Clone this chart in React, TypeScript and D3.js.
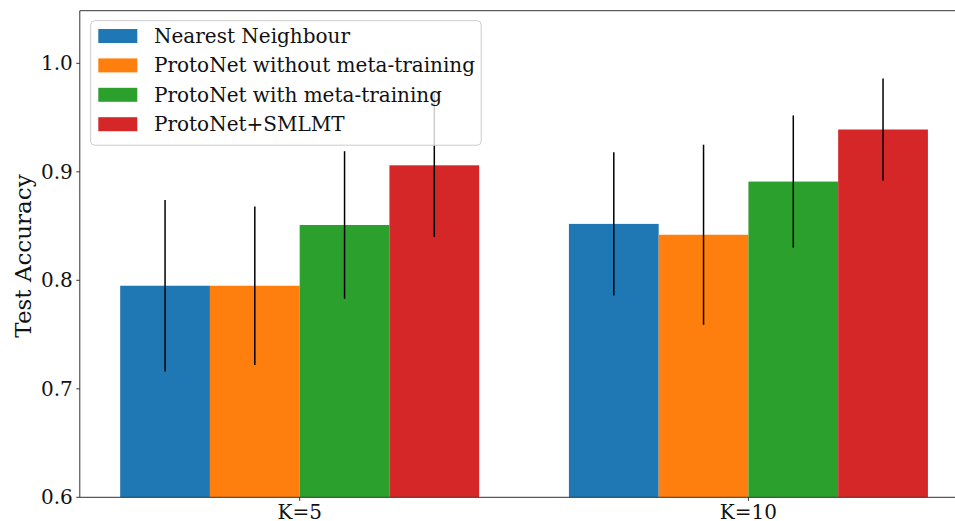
import React from "react";
import * as d3 from "d3";

const categories = ["K=5", "K=10"];
const seriesNames = [
  "Nearest Neighbour",
  "ProtoNet without meta-training",
  "ProtoNet with meta-training",
  "ProtoNet+SMLMT",
];
const seriesColors = ["#1f77b4", "#ff7f0e", "#2ca02c", "#d62728"];
// values per series: [K=5, K=10]
const nearestNeighbour = [0.795, 0.852];
const protoNoMeta = [0.795, 0.842];
const protoMeta = [0.851, 0.891];
const protoSmlmt = [0.906, 0.939];
const errNearest = [0.079, 0.066];
const errNoMeta = [0.073, 0.083];
const errMeta = [0.068, 0.061];
const errSmlmt = [0.066, 0.047];
const yTicks = [0.6, 0.7, 0.8, 0.9, 1.0];

const seriesValues = [nearestNeighbour, protoNoMeta, protoMeta, protoSmlmt];
const seriesErrors = [errNearest, errNoMeta, errMeta, errSmlmt];

const W = 955;
const H = 521;
const FONT = "'DejaVu Serif', serif";

export default function App() {
  const x = d3.scaleLinear().domain([-0.49, 1.49]).range([79.8, 968.3]);
  const y = d3.scaleLinear().domain([0.6, 1.0485]).range([497.3, 10.7]);
  const barW = 0.2;
  const left = x(-0.49);
  const right = x(1.49);
  const top = y(1.0485);
  const bottom = y(0.6);

  const legendX = 90.7;
  const legendY = 20.7;
  const legendW = 390.5;
  const legendH = 124.5;
  const rowH = 29.4;

  return (
    <svg
      width={W}
      height={H}
      style={{ position: "absolute", left: 0, top: 0, background: "#fff" }}
    >
      <rect x={0} y={0} width={W} height={H} fill="#fff" />
      {/* bars */}
      {seriesValues.map((vals, si) =>
        vals.map((v, gi) => {
          const c = gi + (si - 1.5) * barW;
          return (
            <rect
              key={`b-${si}-${gi}`}
              x={x(c - barW / 2)}
              y={y(v)}
              width={x(c + barW / 2) - x(c - barW / 2)}
              height={y(0.6) - y(v)}
              fill={seriesColors[si]}
            />
          );
        })
      )}
      {/* error bars */}
      {seriesValues.map((vals, si) =>
        vals.map((v, gi) => {
          const c = gi + (si - 1.5) * barW;
          const e = seriesErrors[si][gi];
          return (
            <line
              key={`e-${si}-${gi}`}
              x1={x(c)}
              x2={x(c)}
              y1={y(v + e)}
              y2={y(v - e)}
              stroke="#000"
              strokeWidth={1.5}
            />
          );
        })
      )}
      {/* spines */}
      <line x1={left} x2={left} y1={top} y2={bottom} stroke="#333" strokeWidth={1} />
      <line x1={left} x2={right} y1={bottom} y2={bottom} stroke="#333" strokeWidth={1} />
      <line x1={left} x2={right} y1={top} y2={top} stroke="#333" strokeWidth={1} />
      {/* y ticks */}
      {yTicks.map((t) => (
        <g key={`yt-${t}`}>
          <line x1={left - 3.5} x2={left} y1={y(t)} y2={y(t)} stroke="#333" strokeWidth={1} />
          <text
            x={left - 7}
            y={y(t)}
            dy="0.35em"
            textAnchor="end"
            fontFamily={FONT}
            fontSize={20}
            fill="#111"
          >
            {t.toFixed(1)}
          </text>
        </g>
      ))}
      {/* x ticks */}
      {categories.map((c, i) => (
        <g key={`xt-${c}`}>
          <line x1={x(i)} x2={x(i)} y1={bottom} y2={bottom + 3.5} stroke="#333" strokeWidth={1} />
          <text
            x={x(i)}
            y={bottom + 6}
            dy="0.76em"
            textAnchor="middle"
            fontFamily={FONT}
            fontSize={20}
            fill="#111"
          >
            {c}
          </text>
        </g>
      ))}
      {/* y label */}
      <text
        transform={`translate(31, ${(top + bottom) / 2 + 2}) rotate(-90)`}
        textAnchor="middle"
        fontFamily={FONT}
        fontSize={23}
        fill="#111"
      >
        Test Accuracy
      </text>
      {/* legend */}
      <rect
        x={legendX}
        y={legendY}
        width={legendW}
        height={legendH}
        rx={4}
        fill="#fff"
        fillOpacity={0.8}
        stroke="#ccc"
        strokeWidth={1}
      />
      {seriesNames.map((name, i) => (
        <g key={`lg-${i}`}>
          <rect
            x={98.3}
            y={29 + i * rowH}
            width={39}
            height={14}
            fill={seriesColors[i]}
          />
          <text
            x={154}
            y={36 + i * rowH}
            dy="0.35em"
            fontFamily={FONT}
            fontSize={20}
            fill="#111"
          >
            {name}
          </text>
        </g>
      ))}
    </svg>
  );
}
